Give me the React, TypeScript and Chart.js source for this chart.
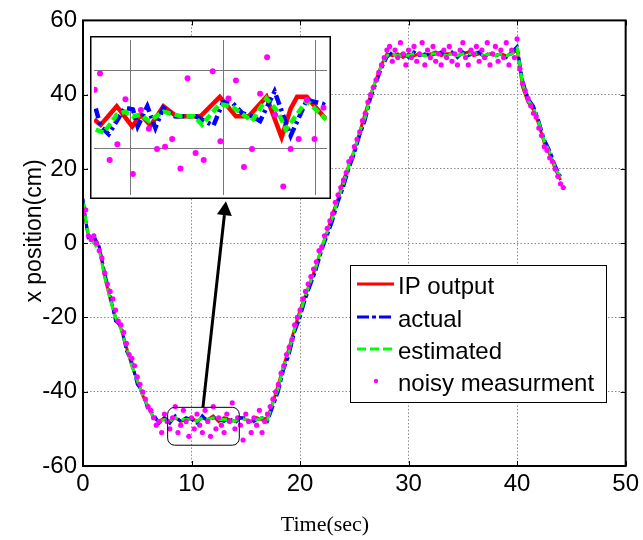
import React, { useEffect, useRef } from "react";
import { Chart, registerables } from "chart.js";

Chart.register(...registerables);

// ---------------- main chart data ----------------
const tLine = [
  0, 0.5, 1, 1.5, 2, 2.5, 3, 3.5, 4, 4.5, 5, 5.5, 6, 6.5, 7, 7.5, 8, 8.5, 9, 9.5,
  10, 10.5, 11, 11.5, 12, 12.5, 13, 13.5, 14, 14.5, 15, 15.5, 16, 16.5, 17, 17.5, 18, 18.5, 19, 19.5,
  20, 20.5, 21, 21.5, 22, 22.5, 23, 23.5, 24, 24.5, 25, 25.5, 26, 26.5, 27, 27.5, 28, 28.5, 29, 29.5,
  30, 30.5, 31, 31.5, 32, 32.5, 33, 33.5, 34, 34.5, 35, 35.5, 36, 36.5, 37, 37.5, 38, 38.5, 39, 39.5,
  40, 40.5, 41, 41.5, 42, 42.5, 43, 43.5, 44,
];

const ipOutput = [
  10, 2, 1, -1, -9, -15, -20, -23, -28, -33, -37, -41, -44, -47,
  -48, -47, -48, -47, -48, -47.5, -47, -48, -47, -47.5, -46.5, -48, -47, -47.5, -48, -47, -47.5, -48, -47, -47.5, -47,
  -43, -38, -33, -28, -23, -18, -14, -10, -6, -1, 3, 8, 12, 17, 21, 25, 30, 35, 40, 44, 48, 51,
  50.5, 51, 50, 51, 50.5, 51, 50.5, 51, 51.5, 50.5, 51, 51, 50.5, 51, 51.5, 50.5, 51, 50.5, 51, 50.5, 51, 50.5, 51,
  52, 42, 38, 36, 32, 27, 24, 20, 17,
];

const actual = [
  12, 1, 2, -1, -8, -14, -21, -22, -29, -32, -38, -40, -45, -46,
  -48.5, -47, -48.5, -46.5, -48, -47, -47.5, -48.5, -46.5, -48, -47, -47.5, -48, -47, -48.5, -47, -47, -48.5, -47.5, -47, -48,
  -44, -40, -34, -30, -24, -20, -15, -11, -7, -2, 2, 6, 11, 15, 20, 24, 29, 33, 39, 43, 47, 50,
  51.5, 50.5, 51, 50, 51.5, 50.5, 51, 50.5, 51, 51.5, 50.5, 51.5, 50, 51.5, 50.5, 51, 51.5, 50, 51.5, 50.5, 51, 50, 51.5,
  53, 44, 39, 37, 33, 28, 25, 21, 18,
];

const estimated = [
  11, 2, 0, -2, -9, -15, -20, -23, -28, -33, -37, -41, -44, -47,
  -48, -47.5, -48, -47, -47.5, -47.5, -47.5, -48, -47, -47.5, -47, -47.5, -47.5, -47.5, -48, -47, -47.5, -48, -47.5, -47, -47.5,
  -43, -39, -33, -29, -23, -19, -14, -10, -6, -1, 3, 7, 12, 16, 21, 25, 30, 34, 40, 44, 48, 50.5,
  51, 50.5, 50.5, 50.5, 51, 51, 50.5, 51, 51, 51, 50.5, 51, 50.5, 51, 51, 51, 51, 50.5, 51, 50.5, 51, 50.5, 51,
  52.5, 43, 38.5, 36.5, 32.5, 27.5, 24.5, 20.5, 17.5,
];

const tNoise = [
  0, 0.25, 0.5, 0.75, 1, 1.25, 1.5, 1.75, 2, 2.25, 2.5, 2.75, 3, 3.25, 3.5, 3.75,
  4, 4.25, 4.5, 4.75, 5, 5.25, 5.5, 5.75, 6, 6.25, 6.5, 6.75, 7, 7.25, 7.5, 7.75,
  8, 8.25, 8.5, 8.75, 9, 9.25, 9.5, 9.75, 10, 10.25, 10.5, 10.75, 11, 11.25, 11.5, 11.75,
  12, 12.25, 12.5, 12.75, 13, 13.25, 13.5, 13.75, 14, 14.25, 14.5, 14.75, 15, 15.25, 15.5, 15.75,
  16, 16.25, 16.5, 16.75, 17, 17.25, 17.5, 17.75, 18, 18.25, 18.5, 18.75, 19, 19.25, 19.5, 19.75,
  20, 20.25, 20.5, 20.75, 21, 21.25, 21.5, 21.75, 22, 22.25, 22.5, 22.75, 23, 23.25, 23.5, 23.75,
  24, 24.25, 24.5, 24.75, 25, 25.25, 25.5, 25.75, 26, 26.25, 26.5, 26.75, 27, 27.25, 27.5, 27.75,
  28, 28.25, 28.5, 28.75, 29, 29.25, 29.5, 29.75, 30, 30.25, 30.5, 30.75, 31, 31.25, 31.5, 31.75,
  32, 32.25, 32.5, 32.75, 33, 33.25, 33.5, 33.75, 34, 34.25, 34.5, 34.75, 35, 35.25, 35.5, 35.75,
  36, 36.25, 36.5, 36.75, 37, 37.25, 37.5, 37.75, 38, 38.25, 38.5, 38.75, 39, 39.25, 39.5, 39.75,
  40, 40.25, 40.5, 40.75, 41, 41.25, 41.5, 41.75, 42, 42.25, 42.5, 42.75, 43, 43.25, 43.5, 43.75,
  44, 44.25,
];

const noisy = [
  8, 9, 2, 1, 2, 0, -2, -4, -8, -11, -13, -15, -18, -21, -22, -24,
  -27, -30, -31, -33, -36, -38, -40, -42, -44, -45, -47, -49, -48, -51, -46, -48,
  -50, -47, -44, -51, -49, -45, -48, -52, -47, -50, -46, -49, -51, -45, -48, -52,
  -44, -50, -47, -49, -51, -46, -48, -43, -50, -47, -49, -53, -46, -48, -51, -47,
  -49, -45, -51, -48, -46, -44, -42, -40, -38, -35, -33, -30, -28, -26, -22, -20,
  -18, -15, -13, -11, -9, -7, -5, -2, -1, 2, 4, 6, 8, 11, 13, 15,
  17, 19, 22, 23, 26, 28, 30, 33, 35, 38, 40, 42, 44, 46, 48, 50,
  52, 53, 49, 52, 50, 54, 51, 48, 52, 50, 53, 49, 51, 54, 48, 52,
  50, 53, 49, 51, 48, 52, 50, 53, 49, 51, 48, 52, 54, 50, 48, 52,
  51, 53, 49, 52, 50, 54, 48, 51, 53, 49, 52, 50, 54, 48, 52, 50,
  55, 47, 43, 41, 39, 37, 35, 34, 31, 29, 26, 25, 23, 22, 20, 18,
  16, 15,
];

// axis ranges / ticks
const xRange = [0, 50];
const xStep = 10;
const yRange = [-60, 60];
const yStep = 20;

// zoom annotation (data coordinates)
const zoomBoxT = [7.8, 14.4];
const zoomBoxY = [-54.4, -44.2];
const arrowFrom = [11.05, -44.2];
const arrowTo = [13.17, 11.3];

// ---------------- inset data ----------------
const insetIpT = [9.602, 9.672, 9.846, 10.014, 10.108, 10.213, 10.352, 10.492, 10.754, 10.963, 11.138, 11.277, 11.469, 11.633, 11.731, 11.801, 11.906, 12.115];
const insetIpY = [-47.63, -47.7, -47.46, -47.72, -47.57, -47.71, -47.46, -47.59, -47.59, -47.34, -47.59, -47.59, -47.34, -47.86, -47.49, -47.34, -47.34, -47.63];

const insetActT = [9.619, 9.672, 9.759, 9.934, 10.021, 10.073, 10.178, 10.265, 10.352, 10.475, 10.701, 10.894, 10.998, 11.103, 11.208, 11.312, 11.4, 11.557, 11.731, 11.906, 12.08, 12.122];
const insetActY = [-47.49, -47.72, -47.82, -47.48, -47.5, -47.72, -47.46, -47.74, -47.48, -47.59, -47.59, -47.71, -47.41, -47.42, -47.55, -47.59, -47.65, -47.27, -47.84, -47.38, -47.43, -47.47];

const insetEstT = [9.619, 9.707, 9.846, 9.934, 10.021, 10.108, 10.195, 10.352, 10.544, 10.684, 10.771, 10.963, 11.103, 11.312, 11.469, 11.592, 11.679, 11.906, 12.115];
const insetEstY = [-47.76, -47.8, -47.57, -47.53, -47.59, -47.57, -47.65, -47.53, -47.59, -47.59, -47.7, -47.43, -47.47, -47.65, -47.36, -47.53, -47.76, -47.39, -47.63];

const insetNoiseT = [9.609, 9.665, 9.77, 9.853, 9.941, 10.021, 10.108, 10.195, 10.283, 10.37, 10.447, 10.537, 10.614, 10.701, 10.789, 10.886, 10.97, 11.057, 11.138, 11.225, 11.312, 11.4, 11.476, 11.563, 11.651, 11.731, 11.818, 11.906, 11.99, 12.087];
const insetNoiseY = [-47.25, -47.04, -48.15, -47.95, -47.37, -48.33, -47.51, -47.75, -48.01, -47.98, -47.88, -48.26, -47.1, -48.06, -48.15, -47.01, -47.91, -47.36, -47.13, -48.24, -48.01, -47.3, -46.83, -47.57, -48.49, -48.01, -47.88, -47.38, -47.88, -47.48];

const insetXRange = [9.6, 12.125];
const insetYRange = [-48.6, -46.61];

// ---------------- styles ----------------
const SANS = "'Liberation Sans', Arial, sans-serif";
const SERIF = "'Liberation Serif', 'Times New Roman', serif";
const RED = "#ff0000";
const BLUE = "#0000ff";
const GREEN = "#00ff00";
const MAGENTA = "#ff00ff";
const DASH_DOT = [12, 3, 4, 3];
const DASHED = [9, 4];

const pts = (xs: number[], ys: number[]) => xs.map((x, i) => ({ x, y: ys[i] }));

const whiteBg = {
  id: "whiteBg",
  beforeDraw(chart: any) {
    const { ctx, width, height } = chart;
    ctx.save();
    ctx.fillStyle = "#fff";
    ctx.fillRect(0, 0, width, height);
    ctx.restore();
  },
};

const mainDecor = {
  id: "mainDecor",
  afterDatasetsDraw(chart: any) {
    const { ctx, chartArea: a, scales } = chart;
    const xs = scales.x;
    const ys = scales.y;
    ctx.save();

    // zoom rounded box
    const bx0 = xs.getPixelForValue(zoomBoxT[0]);
    const bx1 = xs.getPixelForValue(zoomBoxT[1]);
    const by0 = ys.getPixelForValue(zoomBoxY[1]);
    const by1 = ys.getPixelForValue(zoomBoxY[0]);
    ctx.strokeStyle = "#000";
    ctx.lineWidth = 1;
    ctx.beginPath();
    ctx.roundRect(bx0, by0, bx1 - bx0, by1 - by0, 7);
    ctx.stroke();

    // arrow
    const ax0 = xs.getPixelForValue(arrowFrom[0]);
    const ay0 = ys.getPixelForValue(arrowFrom[1]);
    const ax1 = xs.getPixelForValue(arrowTo[0]);
    const ay1 = ys.getPixelForValue(arrowTo[1]);
    const dx = ax1 - ax0;
    const dy = ay1 - ay0;
    const len = Math.hypot(dx, dy);
    const ux = dx / len;
    const uy = dy / len;
    const headL = 14;
    const headW = 7.5;
    const baseX = ax1 - ux * headL;
    const baseY = ay1 - uy * headL;
    ctx.lineWidth = 3;
    ctx.beginPath();
    ctx.moveTo(ax0, ay0);
    ctx.lineTo(baseX, baseY);
    ctx.stroke();
    ctx.fillStyle = "#000";
    ctx.beginPath();
    ctx.moveTo(ax1, ay1);
    ctx.lineTo(baseX - uy * headW, baseY + ux * headW);
    ctx.lineTo(baseX + uy * headW, baseY - ux * headW);
    ctx.closePath();
    ctx.fill();

    // inward tick marks
    ctx.lineWidth = 1;
    ctx.beginPath();
    xs.ticks.forEach((t: any) => {
      const px = Math.round(xs.getPixelForValue(t.value)) + 0.5;
      ctx.moveTo(px, a.bottom);
      ctx.lineTo(px, a.bottom - 5);
      ctx.moveTo(px, a.top);
      ctx.lineTo(px, a.top + 5);
    });
    ys.ticks.forEach((t: any) => {
      const py = Math.round(ys.getPixelForValue(t.value)) + 0.5;
      ctx.moveTo(a.left, py);
      ctx.lineTo(a.left + 5, py);
      ctx.moveTo(a.right, py);
      ctx.lineTo(a.right - 5, py);
    });
    ctx.stroke();

    // frame
    ctx.lineWidth = 2;
    ctx.strokeRect(a.left, a.top, a.right - a.left, a.bottom - a.top);

    // legend
    const lx = 350;
    const ly = 265;
    const lw = 256;
    const lh = 137;
    ctx.fillStyle = "#fff";
    ctx.fillRect(lx, ly, lw, lh);
    ctx.lineWidth = 1;
    ctx.strokeStyle = "#000";
    ctx.strokeRect(lx + 0.5, ly + 0.5, lw, lh);
    ctx.font = `24px ${SANS}`;
    ctx.textAlign = "left";
    ctx.textBaseline = "alphabetic";
    const baselines = [294, 327, 359, 391];
    chart.data.datasets.forEach((ds: any, i: number) => {
      const base = baselines[i];
      const my = base - 10;
      if (ds.showLine === false) {
        ctx.fillStyle = ds.pointBackgroundColor;
        ctx.beginPath();
        ctx.arc(376, my, 2.2, 0, Math.PI * 2);
        ctx.fill();
      } else {
        ctx.strokeStyle = ds.borderColor;
        ctx.lineWidth = 3;
        ctx.setLineDash(ds.borderDash || []);
        ctx.beginPath();
        ctx.moveTo(357, my);
        ctx.lineTo(394, my);
        ctx.stroke();
        ctx.setLineDash([]);
      }
      ctx.fillStyle = "#000";
      ctx.fillText(ds.label, 398, base);
    });

    // axis titles
    ctx.fillStyle = "#000";
    ctx.font = `22px ${SERIF}`;
    ctx.textAlign = "center";
    ctx.textBaseline = "alphabetic";
    ctx.fillText("Time(sec)", 325, 531);

    ctx.save();
    ctx.translate(35, 231);
    ctx.rotate(-Math.PI / 2);
    ctx.font = `23px ${SANS}`;
    ctx.textBaseline = "middle";
    ctx.fillText("x position(cm)", 0, 0);
    ctx.restore();

    ctx.restore();
  },
};

const insetFrame = {
  id: "insetFrame",
  afterDatasetsDraw(chart: any) {
    const { ctx, width, height } = chart;
    ctx.save();
    ctx.strokeStyle = "#000";
    ctx.lineWidth = 1.5;
    ctx.strokeRect(0.75, 0.75, width - 1.5, height - 1.5);
    ctx.restore();
  },
};

function mainConfig(): any {
  return {
    type: "line",
    data: {
      datasets: [
        {
          label: "IP output",
          data: pts(tLine, ipOutput),
          borderColor: RED,
          borderWidth: 3,
          pointRadius: 0,
          tension: 0,
          order: 3,
        },
        {
          label: "actual",
          data: pts(tLine, actual),
          borderColor: BLUE,
          borderWidth: 3,
          borderDash: DASH_DOT,
          pointRadius: 0,
          tension: 0,
          order: 2,
        },
        {
          label: "estimated",
          data: pts(tLine, estimated),
          borderColor: GREEN,
          borderWidth: 3,
          borderDash: DASHED,
          pointRadius: 0,
          tension: 0,
          order: 1,
        },
        {
          label: "noisy measurment",
          data: pts(tNoise, noisy),
          showLine: false,
          pointRadius: 2.6,
          pointBorderWidth: 0,
          pointBackgroundColor: MAGENTA,
          borderColor: MAGENTA,
          order: 0,
        },
      ],
    },
    options: {
      responsive: false,
      animation: false,
      devicePixelRatio: 1,
      events: [],
      layout: { padding: { left: 0, right: 17, top: 18, bottom: 0 } },
      plugins: { legend: { display: false }, tooltip: { enabled: false } },
      scales: {
        x: {
          type: "linear",
          min: xRange[0],
          max: xRange[1],
          ticks: {
            stepSize: xStep,
            color: "#000",
            font: { family: SANS, size: 24 },
            padding: 4,
            maxRotation: 0,
          },
          grid: { color: "#8a8a8a", lineWidth: 1, drawTicks: false },
          border: { display: false, dash: [1.5, 2] },
          afterFit: (s: any) => {
            s.height = 74;
          },
        },
        y: {
          type: "linear",
          min: yRange[0],
          max: yRange[1],
          ticks: {
            stepSize: yStep,
            color: "#000",
            font: { family: SANS, size: 24 },
            padding: 6,
          },
          grid: { color: "#8a8a8a", lineWidth: 1, drawTicks: false },
          border: { display: false, dash: [1.5, 2] },
          afterFit: (s: any) => {
            s.width = 83;
          },
        },
      },
    },
    plugins: [whiteBg, mainDecor],
  };
}

function insetConfig(): any {
  return {
    type: "line",
    data: {
      datasets: [
        {
          label: "IP output",
          data: pts(insetIpT, insetIpY),
          borderColor: RED,
          borderWidth: 4.5,
          pointRadius: 0,
          tension: 0,
          order: 3,
        },
        {
          label: "actual",
          data: pts(insetActT, insetActY),
          borderColor: BLUE,
          borderWidth: 4.5,
          borderDash: [10, 4, 3, 4],
          pointRadius: 0,
          tension: 0,
          order: 2,
        },
        {
          label: "estimated",
          data: pts(insetEstT, insetEstY),
          borderColor: GREEN,
          borderWidth: 4.5,
          borderDash: [8, 4],
          pointRadius: 0,
          tension: 0,
          order: 1,
        },
        {
          label: "noisy measurment",
          data: pts(insetNoiseT, insetNoiseY),
          showLine: false,
          pointRadius: 3,
          pointBorderWidth: 0,
          pointBackgroundColor: MAGENTA,
          order: 0,
        },
      ],
    },
    options: {
      responsive: false,
      animation: false,
      devicePixelRatio: 1,
      events: [],
      layout: { padding: 0 },
      plugins: { legend: { display: false }, tooltip: { enabled: false } },
      scales: {
        x: {
          type: "linear",
          min: insetXRange[0],
          max: insetXRange[1],
          ticks: { display: false, stepSize: 1, includeBounds: false },
          grid: { color: "#777", lineWidth: 1, drawTicks: false },
          border: { display: false },
          afterFit: (s: any) => {
            s.height = 0;
          },
        },
        y: {
          type: "linear",
          min: insetYRange[0],
          max: insetYRange[1],
          ticks: { display: false, stepSize: 1, includeBounds: false },
          grid: { color: "#777", lineWidth: 1, drawTicks: false },
          border: { display: false },
          afterFit: (s: any) => {
            s.width = 0;
          },
        },
      },
    },
    plugins: [whiteBg, insetFrame],
  };
}

export default function App() {
  const mainRef = useRef<HTMLCanvasElement>(null);
  const insetRef = useRef<HTMLCanvasElement>(null);

  useEffect(() => {
    const main = new Chart(mainRef.current as HTMLCanvasElement, mainConfig());
    const inset = new Chart(insetRef.current as HTMLCanvasElement, insetConfig());
    return () => {
      main.destroy();
      inset.destroy();
    };
  }, []);

  return (
    <div style={{ position: "absolute", left: 0, top: 0, width: 643, height: 540, background: "#fff" }}>
      <canvas
        ref={mainRef}
        width={643}
        height={540}
        style={{ position: "absolute", left: 0, top: 0, width: 643, height: 540 }}
      />
      <canvas
        ref={insetRef}
        width={241}
        height={163}
        style={{ position: "absolute", left: 90, top: 36, width: 241, height: 163 }}
      />
    </div>
  );
}
